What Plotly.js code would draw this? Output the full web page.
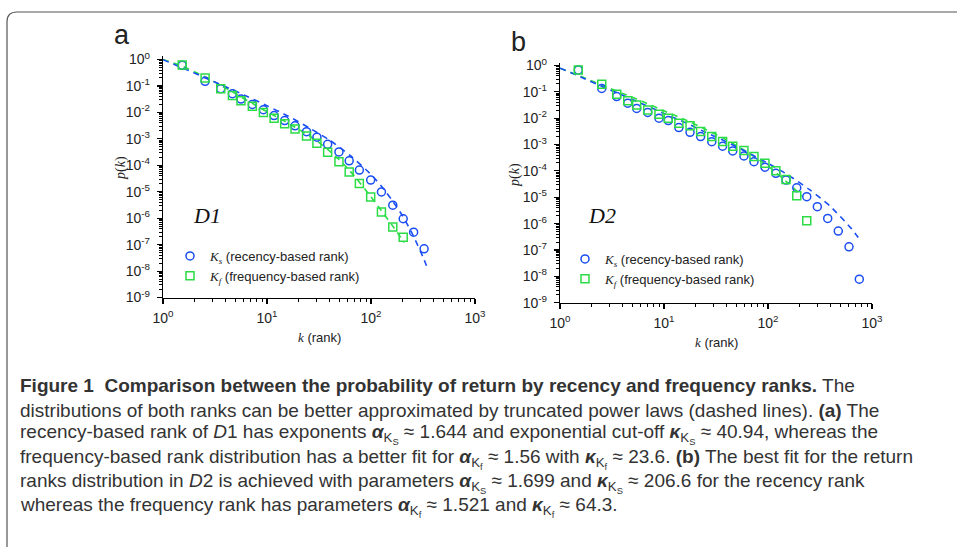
<!DOCTYPE html>
<html><head><meta charset="utf-8">
<script src="https://cdn.plot.ly/plotly-3.0.1.min.js"></script>
<style>html,body{margin:0;padding:0;background:#fff}#chart{width:957px;height:547px}</style>
</head><body><div id="chart"></div>
<script>
// ---------- Panel a (D1) ----------
const kA   = [1.53,2.54,3.59,4.65,5.62,7.23,9.23,11.7,14.8,18.6,24.0,30.2,38.3,49.2,61.7,77.3,99.3,126,162,204,257,324];
const pKsA = [6.0e-1,1.5e-1,7.9e-2,5.1e-2,3.2e-2,2.0e-2,1.26e-2,7.6e-3,4.9e-3,3.1e-3,1.86e-3,1.15e-3,6.2e-4,3.2e-4,1.48e-4,6.6e-5,2.75e-5,9.8e-6,3.1e-6,9.5e-7,2.95e-7,6.9e-8];
const kAf  = [1.53,2.54,3.59,4.65,5.62,7.23,9.23,11.7,14.8,18.6,24.0,30.2,38.3,49.2,61.7,77.3,99.3,126,162,204];
const pKfA = [6.2e-1,2.0e-1,7.9e-2,4.4e-2,2.75e-2,1.7e-2,1.0e-2,6.0e-3,3.7e-3,2.35e-3,1.29e-3,6.8e-4,3.1e-4,1.35e-4,5.6e-5,2.04e-5,6.3e-6,1.7e-6,4.6e-7,1.9e-7];
// dashed fit curves
const fitKsA_k = [1,1.6,2.5,4,6.3,10,16,25,40,63,100,126,158,200,251,316,355];
const fitKsA_p = [0.98,0.45,0.21,0.093,0.042,0.0178,7.2e-3,2.7e-3,8.9e-4,2.35e-4,4.5e-5,1.62e-5,5.0e-6,1.26e-6,2.45e-7,3.4e-8,1.1e-8];
const fitKfA_k = [1,1.53,2.54,3.59,4.65,5.62,7.23,9.23,11.7,14.8,18.6,24,30.2,38.3,49.2,61.7,77.3,99.3,126,162,209];
const fitKfA_p = [1.0,0.56,0.22,0.105,0.060,0.038,0.022,0.0126,7.6e-3,4.6e-3,2.75e-3,1.51e-3,8.3e-4,4.0e-4,1.66e-4,6.6e-5,2.3e-5,6.6e-6,1.9e-6,5.0e-7,1.2e-7];

// ---------- Panel b (D2) ----------
const kB   = [1.50,2.52,3.51,4.48,5.46,6.97,8.95,11.0,13.9,17.8,22.5,28.8,36.6,45.8,58.7,73.3,93.5,119,149,189,236,298,375,474,601,755];
const pKsB = [0.68,0.135,0.066,0.037,0.0234,0.0166,0.0100,8.1e-3,4.4e-3,2.9e-3,2.0e-3,1.29e-3,8.7e-4,5.75e-4,3.7e-4,2.24e-4,1.38e-4,8.1e-5,4.5e-5,2.3e-5,1.05e-5,4.4e-6,1.58e-6,5.2e-7,1.32e-7,7.8e-9];
const kBf  = [1.50,2.52,3.51,4.48,5.46,6.97,8.95,11.0,13.9,17.8,22.5,28.8,36.6,45.8,58.7,73.3,93.5,119,149,189,236];
const pKfB = [0.68,0.195,0.081,0.046,0.032,0.0204,0.0141,0.0100,6.5e-3,5.2e-3,3.1e-3,2.0e-3,1.32e-3,8.7e-4,5.9e-4,3.5e-4,1.95e-4,1.02e-4,4.7e-5,1.15e-5,1.29e-6];
const fitKsB_k = [1,1.6,2.5,4,6.3,10,16,25,40,63,100,158,251,398,631,768];
const fitKsB_p = [0.79,0.36,0.162,0.074,0.034,0.0151,6.8e-3,2.95e-3,1.26e-3,5.1e-4,1.95e-4,6.8e-5,1.95e-5,4.5e-6,6.6e-7,2.4e-7];
const fitKfB_k = [1,1.6,2.5,4,6.3,10,16,25,40,63,100,158,214];
const fitKfB_p = [0.79,0.38,0.182,0.087,0.042,0.019,8.7e-3,3.8e-3,1.51e-3,5.2e-4,1.51e-4,3.3e-5,1.1e-5];

// ---------- ticks & texts ----------
const xTickVals = [1,10,100,1000];
const xTickText = ["10<sup>0</sup>","10<sup>1</sup>","10<sup>2</sup>","10<sup>3</sup>"];
const yTickVals = [1,1e-1,1e-2,1e-3,1e-4,1e-5,1e-6,1e-7,1e-8,1e-9];
const yTickText = ["10<sup>0</sup>","10<sup>-1</sup>","10<sup>-2</sup>","10<sup>-3</sup>","10<sup>-4</sup>","10<sup>-5</sup>","10<sup>-6</sup>","10<sup>-7</sup>","10<sup>-8</sup>","10<sup>-9</sup>"];
const serif = "'Liberation Serif','DejaVu Serif',serif";
const nameKs = "<span style=\"font-family:'Liberation Serif'\"><i>K</i><sub><i>s</i></sub></span> (recency-based rank)";
const nameKf = "<span style=\"font-family:'Liberation Serif'\"><i>K</i><sub><i>f</i></sub></span> (frequency-based rank)";
const a_s = "<b><i>α</i></b><sub>K<sub>S</sub></sub>", k_s = "<b><i>κ</i></b><sub>K<sub>S</sub></sub>";
const a_f = "<b><i>α</i></b><sub>K<sub>f</sub></sub>", k_f = "<b><i>κ</i></b><sub>K<sub>f</sub></sub>";
const capLines = [
 "<b>Figure 1\u00a0 Comparison between the probability of return by recency and frequency ranks.</b> The",
 "distributions of both ranks can be better approximated by truncated power laws (dashed lines). <b>(a)</b> The",
 "recency-based rank of <i>D</i>1 has exponents "+a_s+" ≈ 1.644 and exponential cut-off "+k_s+" ≈ 40.94, whereas the",
 "frequency-based rank distribution has a better fit for "+a_f+" ≈ 1.56 with "+k_f+" ≈ 23.6. <b>(b)</b> The best fit for the return",
 "ranks distribution in <i>D</i>2 is achieved with parameters "+a_s+" ≈ 1.699 and "+k_s+" ≈ 206.6 for the recency rank",
 "whereas the frequency rank has parameters "+a_f+" ≈ 1.521 and "+k_f+" ≈ 64.3."
];

const W = 957, H = 547;
const px = v => v / W, py = v => 1 - v / H;
const BLUE = "#1a4ef2", GREEN = "#2bdc45";
const sans = "'Liberation Sans',Arial,sans-serif";

function lineTrace(x, y, col, xa, ya) {
  return {x, y, xaxis: xa, yaxis: ya, mode: "lines", line: {color: col, width: 1.6, dash: "6px,5px", shape: "spline", smoothing: 0.6}, showlegend: false, hoverinfo: "skip"};
}
function markTrace(x, y, col, sym, name, xa, ya, lg) {
  return {x, y, xaxis: xa, yaxis: ya, mode: "markers", name, legend: lg,
    marker: {symbol: sym, size: 8, color: col, line: {color: col, width: 1.5}}};
}

const data = [
  lineTrace(fitKfA_k, fitKfA_p, GREEN, "x", "y"),
  lineTrace(fitKsA_k, fitKsA_p, BLUE, "x", "y"),
  markTrace(kA, pKsA, BLUE, "circle-open", nameKs, "x", "y", "legend"),
  markTrace(kAf, pKfA, GREEN, "square-open", nameKf, "x", "y", "legend"),
  lineTrace(fitKfB_k, fitKfB_p, GREEN, "x2", "y2"),
  lineTrace(fitKsB_k, fitKsB_p, BLUE, "x2", "y2"),
  markTrace(kB, pKsB, BLUE, "circle-open", nameKs, "x2", "y2", "legend2"),
  markTrace(kBf, pKfB, GREEN, "square-open", nameKf, "x2", "y2", "legend2")
];

const tickFont = {family: sans, size: 14, color: "#222"};
function xAx(domain, anchor, main, overlay) {
  const o = {type: "log", range: [0, 3], domain, anchor, showgrid: false, zeroline: false,
    showline: true, linecolor: "#000", linewidth: 1.2, tickmode: "array", tickvals: xTickVals, ticktext: xTickText,
    ticklen: 5, tickwidth: 1.1, tickcolor: "#000", tickfont: tickFont, fixedrange: true, ticklabelstandoff: 2,
    minor: {dtick: "D1", ticklen: 3, tickwidth: 1, tickcolor: "#000", ticks: main ? "outside" : "inside", showgrid: false}};
  if (main) { o.ticks = "outside"; o.side = "bottom"; }
  else { o.ticks = "inside"; o.side = "top"; o.overlaying = overlay; o.showticklabels = false; delete o.domain; }
  return o;
}
function yAx(domain, top, anchor, main, overlay) {
  const o = {type: "log", range: [-9, top], domain, anchor, showgrid: false, zeroline: false,
    showline: true, linecolor: "#000", linewidth: 1.2, tickmode: "array", tickvals: yTickVals, ticktext: yTickText,
    ticklen: 5, tickwidth: 1.1, tickcolor: "#000", tickfont: tickFont, fixedrange: true, ticklabelstandoff: 4,
    minor: {dtick: "D1", ticklen: 3, tickwidth: 1, tickcolor: "#000", ticks: main ? "outside" : "inside", showgrid: false}};
  if (main) { o.ticks = "outside"; o.side = "left"; }
  else { o.ticks = "inside"; o.side = "right"; o.overlaying = overlay; o.showticklabels = false; delete o.domain; }
  return o;
}
const dxA = [px(163), px(475)], dyA = [py(297.5), py(55.7)];
const dxB = [px(560), px(872)], dyB = [py(302.7), py(63.3)];

const ann = [];
function A(text, x, y, opt) { ann.push(Object.assign({text, x: px(x), y: py(y), xref: "paper", yref: "paper", showarrow: false, xanchor: "center", yanchor: "middle"}, opt)); }
A("a", 121.5, 35, {font: {family: sans, size: 27, color: "#222"}});
A("b", 518, 42, {font: {family: sans, size: 27, color: "#222"}});
A("<i>D1</i>", 207, 215, {font: {family: serif, size: 22, color: "#111"}});
A("<i>D2</i>", 602, 215, {font: {family: serif, size: 22, color: "#111"}});
A("<i>p</i>(<i>k</i>)", 121, 168, {textangle: -90, font: {family: serif, size: 14, color: "#222"}});
A("<i>p</i>(<i>k</i>)", 515, 175, {textangle: -90, font: {family: serif, size: 14, color: "#222"}});
const xt = "<span style=\"font-family:'Liberation Serif'\"><i>k</i></span> (rank)";
A(xt, 319, 337, {font: {family: sans, size: 13, color: "#222"}});
A(xt, 716, 342, {font: {family: sans, size: 13, color: "#222"}});
const capY = [385, 410, 434, 458.5, 483, 507];
capLines.forEach((t, i) => A(t, 18, capY[i], {xanchor: "left", yanchor: "middle", align: "left", font: {family: sans, size: 19, color: "#333"}}));

const frame = {type: "path", xref: "paper", yref: "paper",
  path: `M ${px(7)},${py(547)} L ${px(7)},${py(22)} Q ${px(7)},${py(12)} ${px(17)},${py(12)} L ${px(957)},${py(12)}`,
  line: {color: "#555", width: 1.2}};

const legBase = {xanchor: "left", yanchor: "top", bgcolor: "rgba(0,0,0,0)", borderwidth: 0,
  font: {family: sans, size: 13, color: "#222"}, tracegroupgap: 0, itemclick: false};

const layout = {
  width: W, height: H, margin: {l: 0, r: 0, t: 0, b: 0}, paper_bgcolor: "#fff", plot_bgcolor: "rgba(0,0,0,0)",
  showlegend: true,
  xaxis: xAx(dxA, "y", true), xaxis3: xAx(dxA, "y", false, "x"),
  yaxis: yAx(dyA, 0.144, "x", true), yaxis3: yAx(dyA, 0.144, "x", false, "y"),
  xaxis2: xAx(dxB, "y2", true), xaxis4: xAx(dxB, "y2", false, "x2"),
  yaxis2: yAx(dyB, 0.083, "x2", true), yaxis4: yAx(dyB, 0.083, "x2", false, "y2"),
  legend: Object.assign({x: px(170), y: py(241)}, legBase),
  legend2: Object.assign({x: px(565), y: py(244)}, legBase),
  annotations: ann, shapes: [frame]
};
Plotly.newPlot("chart", data, layout, {staticPlot: true, displayModeBar: false});
</script></body></html>
